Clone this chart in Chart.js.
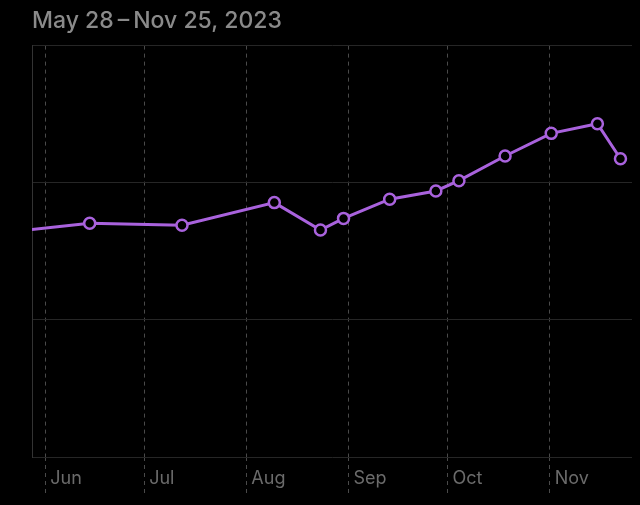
<!DOCTYPE html>
<html>
<head>
<meta charset="utf-8">
<script src="https://cdn.jsdelivr.net/npm/chart.js@4/dist/chart.umd.min.js"></script>
<style>
  html, body { margin: 0; padding: 0; background: #000; }
  #wrap { width: 640px; height: 505px; position: relative; }
</style>
</head>
<body>
<div id="wrap"><canvas id="chart"></canvas></div>
<script>
// Weekly readings (the first one is before the visible range, so the line enters from the left)
const dates = [
  "2023-05-24", "2023-06-14", "2023-07-12", "2023-08-09", "2023-08-23",
  "2023-08-30", "2023-09-13", "2023-09-27", "2023-10-04", "2023-10-18",
  "2023-11-01", "2023-11-15", "2023-11-22",
];
const values = [33.0, 34.1, 33.8, 37.1, 33.1, 34.8, 37.6, 38.8, 40.3, 43.9, 47.2, 48.6, 43.5];

// Month ticks on the x axis
const monthDates = ["2023-06-01", "2023-07-01", "2023-08-01", "2023-09-01", "2023-10-01", "2023-11-01"];
const monthLabels = ["Jun", "Jul", "Aug", "Sep", "Oct", "Nov"];

const rangeStart = "2023-05-28";
const rangeEnd = "2023-11-26";
const title = "May 28\u2009\u2013\u2009Nov 25, 2023";

// days since the start of the range
const dayOf = (s) => {
  const [y, m, d] = s.split("-").map(Number);
  const [y0, m0, d0] = rangeStart.split("-").map(Number);
  return (Date.UTC(y, m - 1, d) - Date.UTC(y0, m0 - 1, d0)) / 864e5;
};

const points = dates.map((d, i) => ({ x: dayOf(d) + 0.5, y: values[i] }));
const monthTicks = monthDates.map(dayOf);

const purple = "#a962dd";

new Chart(document.getElementById("chart"), {
  type: "line",
  data: {
    datasets: [
      {
        data: points,
        borderColor: purple,
        borderWidth: 3,
        pointRadius: 5.5,
        pointBorderWidth: 2.5,
        pointBackgroundColor: "#000",
        pointBorderColor: purple,
        tension: 0,
      },
    ],
  },
  options: {
    responsive: true,
    maintainAspectRatio: false,
    animation: false,
    layout: { padding: { left: 32, right: 6, top: 0, bottom: 0 } },
    plugins: {
      legend: { display: false },
      tooltip: { enabled: false },
      title: {
        display: true,
        text: title,
        align: "start",
        color: "#8a8a8a",
        font: { family: "Inter, Roboto, sans-serif", size: 23, weight: "500" },
        padding: { top: 7, bottom: 11 },
      },
    },
    scales: {
      x: {
        type: "linear",
        min: dayOf(rangeStart),
        max: dayOf(rangeEnd),
        afterBuildTicks: (scale) => {
          scale.ticks = monthTicks.map((v) => ({ value: v }));
        },
        afterFit: (scale) => {
          scale.height = 48;
        },
        grid: {
          color: "#4a4a4a",
          tickColor: "#4a4a4a",
          tickLength: 36,
          tickBorderDash: [4, 4],
        },
        border: { display: false, dash: [4, 4] },
        ticks: {
          align: "start",
          padding: -25,
          color: "#6b6b6b",
          font: { family: "Inter, Roboto, sans-serif", size: 18 },
          callback: (v) => " " + monthLabels[monthTicks.indexOf(v)],
          maxRotation: 0,
        },
      },
      y: {
        min: 0,
        max: 60,
        afterFit: (scale) => {
          scale.width = 0;
        },
        ticks: { display: false, stepSize: 20 },
        grid: { color: "#262626", drawTicks: false },
        border: { display: true, color: "#333333" },
      },
    },
  },
});
</script>
</body>
</html>
